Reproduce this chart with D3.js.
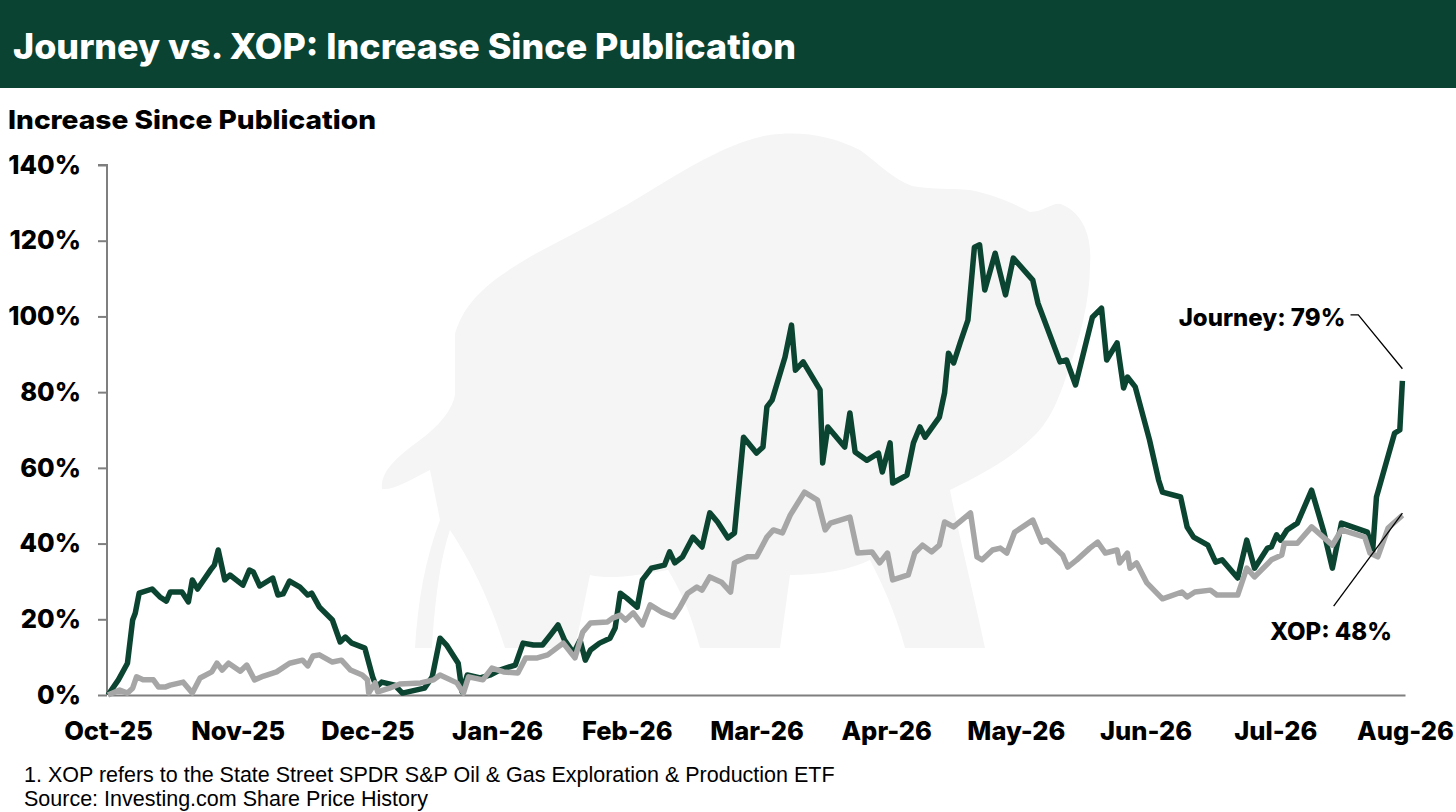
<!DOCTYPE html>
<html>
<head>
<meta charset="utf-8">
<script src="https://cdn.jsdelivr.net/npm/d3@7"></script>
<style>
  html, body { margin: 0; padding: 0; background: #fff; }
  svg { display: block; }
</style>
</head>
<body>
<svg id="chart" width="1456" height="812"></svg>
<script>
// month labels on the x axis (t = 0 .. 10)
const months = ['Oct-25', 'Nov-25', 'Dec-25', 'Jan-26', 'Feb-26', 'Mar-26',
                'Apr-26', 'May-26', 'Jun-26', 'Jul-26', 'Aug-26'];
const yTicks = [0, 20, 40, 60, 80, 100, 120, 140];

// [t in months since Oct-25, % increase]
const journey = [
  [0.00, 0], [0.08, 4], [0.15, 8.4], [0.19, 19.8], [0.21, 21.6], [0.24, 26.9],
  [0.34, 28], [0.40, 25.9], [0.45, 24.8], [0.48, 27.2], [0.57, 27.2], [0.62, 24.6],
  [0.65, 30.4], [0.69, 28], [0.79, 33], [0.82, 34.3], [0.85, 38.3], [0.90, 30.4],
  [0.94, 31.7], [1.04, 29], [1.09, 33], [1.12, 32.5], [1.17, 28.8], [1.27, 30.9],
  [1.31, 26.4], [1.35, 26.7], [1.40, 30.1], [1.48, 28.5], [1.54, 26.4], [1.57, 26.9],
  [1.63, 23.2], [1.73, 19.8], [1.79, 14], [1.83, 15.3], [1.88, 13.7], [1.98, 12.4],
  [2.04, 4.8], [2.07, 2.1], [2.11, 3.4], [2.21, 2.6], [2.27, 0.5], [2.44, 1.8],
  [2.50, 4.8], [2.56, 15], [2.61, 13.2], [2.70, 8.4], [2.73, 0.8], [2.77, 5.3],
  [2.87, 4.5], [2.95, 5.3], [3.02, 6.6], [3.14, 7.9], [3.20, 13.7], [3.28, 13.2],
  [3.35, 13.2], [3.41, 15.8], [3.47, 18.5], [3.52, 14.5], [3.59, 11.1], [3.64, 14.5],
  [3.68, 9.2], [3.72, 11.9], [3.79, 13.7], [3.87, 15], [3.91, 17.7], [3.95, 26.9],
  [4.00, 25.6], [4.08, 23.2], [4.12, 30.4], [4.19, 33.5], [4.29, 34.3], [4.33, 37.8],
  [4.37, 34.9], [4.43, 36.5], [4.51, 41.7], [4.58, 39.1], [4.64, 48.1], [4.70, 45.7],
  [4.78, 41.5], [4.83, 42.8], [4.90, 68.1], [5.00, 63.9], [5.05, 65.5], [5.08, 76.1],
  [5.12, 77.9], [5.22, 89.3], [5.27, 97.7], [5.30, 85.8], [5.36, 88], [5.49, 80.6],
  [5.51, 61.3], [5.55, 70.8], [5.68, 65.5], [5.72, 74.5], [5.76, 64.2], [5.85, 62],
  [5.94, 63.9], [5.97, 58.9], [6.03, 66.6], [6.05, 56], [6.16, 58.1], [6.21, 66.6],
  [6.26, 70.8], [6.30, 68.1], [6.41, 73.4], [6.45, 79.8], [6.48, 90.3], [6.52, 87.7],
  [6.57, 93], [6.63, 99], [6.68, 118.3], [6.72, 118.9], [6.76, 107], [6.84, 116.7],
  [6.92, 105.7], [6.98, 115.4], [7.13, 109.6], [7.17, 103.5], [7.34, 88], [7.39, 88.5],
  [7.46, 81.9], [7.59, 99.8], [7.66, 102.2], [7.70, 88.5], [7.78, 93], [7.83, 81.1],
  [7.86, 84], [7.92, 81.4], [8.03, 67.4], [8.10, 56.8], [8.13, 53.6], [8.27, 52.3],
  [8.32, 44.4], [8.37, 41.7], [8.48, 39.6], [8.54, 35.1], [8.59, 35.7], [8.71, 30.9],
  [8.78, 40.9], [8.84, 33.5], [8.94, 38.8], [8.97, 39.1], [9.01, 42.3], [9.04, 40.9],
  [9.09, 43.6], [9.17, 45.4], [9.28, 54.1], [9.37, 43.6], [9.44, 33.5], [9.51, 45.4],
  [9.71, 43], [9.75, 37.8], [9.78, 52.3], [9.92, 69.2], [9.96, 70], [9.98, 83]
];

const xop = [
  [0.00, 0], [0.09, 1.3], [0.15, 0.5], [0.19, 1.8], [0.22, 4.8], [0.27, 4],
  [0.35, 4], [0.39, 2.1], [0.44, 2.1], [0.48, 2.6], [0.58, 3.4], [0.65, 0.5],
  [0.71, 4.5], [0.80, 6.1], [0.84, 8.4], [0.88, 6.6], [0.93, 8.4], [1.02, 6.3],
  [1.07, 7.9], [1.13, 4], [1.20, 5], [1.30, 6.1], [1.40, 8.4], [1.50, 9.2],
  [1.54, 7.7], [1.58, 10.3], [1.63, 10.6], [1.73, 8.7], [1.80, 9.2], [1.87, 6.6],
  [1.96, 5.3], [2.00, 4], [2.01, 0.5], [2.06, 3.2], [2.08, 0.8], [2.17, 1.8],
  [2.25, 2.9], [2.41, 3.2], [2.51, 4], [2.56, 5.3], [2.69, 3.2], [2.74, 0.5],
  [2.78, 4.8], [2.89, 4], [2.96, 7.1], [3.05, 6.1], [3.16, 5.8], [3.22, 9.8],
  [3.31, 9.8], [3.39, 10.6], [3.51, 13.7], [3.60, 9.8], [3.66, 16.6], [3.72, 19],
  [3.85, 19.3], [3.89, 20.3], [3.95, 21.1], [3.99, 19.8], [4.05, 21.7], [4.12, 18.5],
  [4.18, 23.8], [4.27, 21.9], [4.36, 20.6], [4.41, 23.2], [4.47, 26.9], [4.54, 28.5],
  [4.58, 27.7], [4.64, 31.2], [4.73, 29.8], [4.80, 27.2], [4.83, 34.9], [4.93, 36.5],
  [5.00, 36.5], [5.08, 41.7], [5.13, 43.6], [5.20, 42.8], [5.26, 47.5], [5.37, 53.6],
  [5.47, 51.5], [5.53, 43.6], [5.57, 45.4], [5.72, 47], [5.78, 37.5], [5.89, 37.8],
  [5.95, 34.9], [6.01, 37.5], [6.05, 30.4], [6.17, 31.7], [6.22, 37.5], [6.28, 39.6],
  [6.35, 37.8], [6.41, 39.6], [6.45, 45.7], [6.52, 44.4], [6.65, 48.1], [6.70, 36.5],
  [6.74, 35.7], [6.82, 38.3], [6.88, 38.8], [6.93, 37.5], [6.99, 43], [7.13, 46.2],
  [7.20, 40.4], [7.24, 40.9], [7.36, 37], [7.40, 33.8], [7.47, 35.7], [7.57, 38.8],
  [7.63, 40.4], [7.69, 37.5], [7.78, 38.3], [7.80, 34.9], [7.86, 37.5], [7.88, 33.5],
  [7.93, 34.9], [8.01, 29.6], [8.13, 25.4], [8.28, 27.2], [8.32, 25.9], [8.38, 27.2],
  [8.50, 27.7], [8.55, 26.4], [8.71, 26.4], [8.78, 33.5], [8.84, 31.2], [8.97, 35.7],
  [9.05, 37], [9.07, 40.1], [9.17, 40.1], [9.28, 44.4], [9.44, 39.6], [9.51, 43.6],
  [9.69, 41.7], [9.73, 37.5], [9.79, 36.5], [9.87, 44.1], [9.98, 47.5]
];

const labels = { journey: 'Journey: 79%', xop: 'XOP: 48%' };

const GREEN = '#0b4431';
const GREY = '#a6a6a6';
const FONT = 'Inter, "Open Sans", "Liberation Sans", sans-serif';

const svg = d3.select('#chart');

// header band
svg.append('rect')
    .attr('x', 0).attr('y', 0)
    .attr('width', 1456).attr('height', 88)
    .attr('fill', '#0a4331');
svg.append('text')
    .attr('x', 13).attr('y', 59)
    .attr('fill', '#fff')
    .attr('font-family', FONT)
    .attr('font-weight', 800)
    .attr('font-size', 35)
    .attr('textLength', 783)
    .attr('lengthAdjust', 'spacingAndGlyphs')
    .text('Journey vs. XOP: Increase Since Publication');

svg.append('text')
    .attr('x', 8).attr('y', 129)
    .attr('fill', '#000')
    .attr('font-family', FONT)
    .attr('font-weight', 800)
    .attr('font-size', 26)
    .attr('textLength', 368)
    .attr('lengthAdjust', 'spacingAndGlyphs')
    .text('Increase Since Publication');

// faint bison watermark behind the plot
svg.append('path')
    .attr('fill', '#f5f5f5')
    .attr('d', 'M382,489 C380,470 400,455 420,440 C440,425 452,410 455,395 L455,334 ' +
               'C465,300 490,280 535,254 C580,230 620,210 653,189 C700,160 745,135 780,134 ' +
               'C810,132 835,138 860,150 C880,165 895,180 912,186 C935,190 950,188 970,190 ' +
               'C995,195 1010,202 1030,212 C1045,212 1055,200 1063,205 C1085,215 1092,240 1090,265 ' +
               'C1090,300 1080,340 1065,380 C1055,410 1045,425 1035,435 C1015,455 990,470 960,485 ' +
               'L950,490 C960,540 975,600 985,648 L905,648 C895,610 880,580 870,560 ' +
               'C850,570 820,575 790,575 L780,648 L700,648 C690,610 680,590 668,570 ' +
               'C640,575 610,580 590,575 L575,648 L505,648 C490,600 470,560 450,530 ' +
               'C440,560 435,600 432,648 L415,648 C418,600 425,560 440,520 L430,470 ' +
               'C410,480 395,490 382,489 Z');

const x = d3.scaleLinear().domain([0, months.length - 1]).range([108, 1405]);
const y = d3.scaleLinear().domain([0, 140]).range([695, 165]);
const xm = d3.scalePoint().domain(months).range([108, 1405]);

// y axis
const yAxis = svg.append('g')
    .attr('transform', 'translate(107,0)')
    .call(d3.axisLeft(y).tickValues(yTicks).tickSize(9).tickPadding(17)
        .tickFormat(d => d + '%'));
yAxis.select('.domain').attr('stroke', '#7f7f7f').attr('stroke-width', 2)
    .attr('d', 'M-9,' + y(140) + 'H0V' + y(0));
yAxis.selectAll('.tick line').attr('stroke', '#7f7f7f').attr('stroke-width', 2);
yAxis.selectAll('.tick text')
    .attr('fill', '#000')
    .attr('font-family', FONT)
    .attr('font-weight', 800)
    .attr('font-size', 25.5);

// x axis
const xAxis = svg.append('g')
    .attr('transform', 'translate(0,' + y(0) + ')')
    .call(d3.axisBottom(xm).tickSize(0).tickPadding(27));
xAxis.select('.domain').attr('stroke', '#7f7f7f').attr('stroke-width', 2);
xAxis.selectAll('.tick text')
    .attr('fill', '#000')
    .attr('font-family', FONT)
    .attr('font-weight', 800)
    .attr('font-size', 25.5);

const line = d3.line().x(d => x(d[0])).y(d => y(d[1]));

svg.append('path')
    .datum(journey)
    .attr('fill', 'none')
    .attr('stroke', GREEN)
    .attr('stroke-width', 5.5)
    .attr('stroke-linejoin', 'round')
    .attr('d', line);

svg.append('path')
    .datum(xop)
    .attr('fill', 'none')
    .attr('stroke', GREY)
    .attr('stroke-width', 5.5)
    .attr('stroke-linejoin', 'round')
    .attr('d', line);

// end labels with leader lines
const jEnd = journey[journey.length - 1];
const xEnd = xop[xop.length - 1];

svg.append('path')
    .attr('fill', 'none').attr('stroke', '#000').attr('stroke-width', 1.3)
    .attr('d', d3.line()([[x(9.58), y(100.4)], [x(9.64), y(100.4)], [x(jEnd[0]), y(jEnd[1]) - 12]]));
svg.append('text')
    .attr('x', x(9.54)).attr('y', y(97.5))
    .attr('text-anchor', 'end')
    .attr('font-family', FONT).attr('font-weight', 800).attr('font-size', 24)
    .text(labels.journey);

svg.append('path')
    .attr('fill', 'none').attr('stroke', '#000').attr('stroke-width', 1.3)
    .attr('d', d3.line()([[x(9.45), y(23.5)], [x(xEnd[0]), y(xEnd[1]) - 2]]));
svg.append('text')
    .attr('x', x(9.43)).attr('y', y(14.6))
    .attr('text-anchor', 'middle')
    .attr('font-family', FONT).attr('font-weight', 800).attr('font-size', 24)
    .text(labels.xop);

// footnotes
const notes = ['1. XOP refers to the State Street SPDR S&P Oil & Gas Exploration & Production ETF',
               'Source: Investing.com Share Price History'];
svg.selectAll('text.note')
    .data(notes)
    .join('text')
    .attr('class', 'note')
    .attr('x', 24)
    .attr('y', (d, i) => 782 + i * 23.5)
    .attr('font-family', '"Liberation Sans", Arial, sans-serif')
    .attr('font-size', 21.5)
    .attr('fill', '#000')
    .text(d => d);
</script>
</body>
</html>
